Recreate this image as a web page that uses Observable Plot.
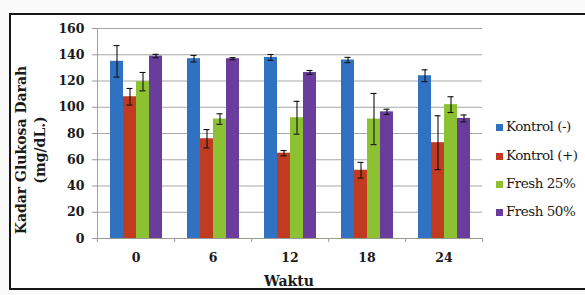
<!DOCTYPE html>
<html>
<head>
<meta charset="utf-8">
<script src="https://cdn.jsdelivr.net/npm/d3@7"></script>
<script src="https://cdn.jsdelivr.net/npm/@observablehq/plot@0.6"></script>
<style>
  html, body { margin: 0; padding: 0; background: #fafafa; overflow: hidden; }
  #wrap { position: relative; width: 585px; height: 295px; font-family: "DejaVu Serif", serif; }
  #border { position: absolute; left: 9px; top: 13px; width: 640px; height: 277px; border: 2.5px solid #161616; background: #fff; box-sizing: border-box; }
  #chart { position: absolute; left: 0; top: 0; }
  #ytitle { position: absolute; left: 31px; top: 150px; width: 0; height: 0; }
  #ytitle div { position: absolute; transform: translate(-50%, -50%) rotate(-90deg); white-space: nowrap; text-align: center; font-weight: bold; font-size: 14px; line-height: 19px; color: #1a1a1a; }
  #xtitle { position: absolute; left: 289px; top: 281px; transform: translate(-50%, -50%); font-weight: bold; font-size: 14px; color: #1a1a1a; }
  .leg { position: absolute; left: 496px; height: 20px; display: flex; align-items: center; font-family: "DejaVu Serif", serif; font-size: 13.5px; letter-spacing: -0.5px; color: #1a1a1a; white-space: nowrap; }
  .leg span.sw { display: inline-block; width: 7px; height: 7px; margin-right: 3px; margin-top: 2px; }
</style>
</head>
<body>
<div id="wrap">
  <div id="border"></div>
  <div id="chart"></div>
  <div id="ytitle"><div>Kadar Glukosa Darah<br>(mg/dL.)</div></div>
  <div id="xtitle">Waktu</div>
  <div id="legend"></div>
</div>
<script>
const times = ["0", "6", "12", "18", "24"];
const series = ["Kontrol (-)", "Kontrol (+)", "Fresh 25%", "Fresh 50%"];
const colors = ["#3071c2", "#c03b1f", "#8cc232", "#6a3d9d"];
const yTicks = [0, 20, 40, 60, 80, 100, 120, 140, 160];

const kontrolNeg    = [135, 137, 138, 136, 124];
const kontrolNegErr = [12, 2.5, 2.2, 2, 4.5];
const kontrolPos    = [108, 76, 65, 52, 73];
const kontrolPosErr = [6.3, 7, 2, 6, 20.5];
const fresh25       = [119.5, 91, 92, 91, 102];
const fresh25Err    = [7, 4, 12.5, 19.5, 6];
const fresh50       = [139, 137, 126.5, 96.5, 91.5];
const fresh50Err    = [1.3, 0.8, 1.5, 2, 2.6];

const values = [kontrolNeg, kontrolPos, fresh25, fresh50];
const errs = [kontrolNegErr, kontrolPosErr, fresh25Err, fresh50Err];

const rows = [];
times.forEach((t, i) => {
  series.forEach((s, j) => {
    rows.push({time: t, series: s, value: values[j][i], err: errs[j][i]});
  });
});

const W = 585, H = 295, mL = 96, mR = 102, mT = 28, mB = 57;
const fxStep = (W - mL - mR) / times.length;

const chart = Plot.plot({
  width: W, height: H,
  marginLeft: mL, marginRight: mR, marginTop: mT, marginBottom: mB,
  style: {fontFamily: "DejaVu Serif", background: "transparent", color: "#1a1a1a"},
  fx: {domain: times, padding: 0, label: null},
  x: {domain: series, paddingInner: 0, paddingOuter: 0.76, axis: null},
  y: {domain: [0, 160], label: null},
  color: {domain: series, range: colors},
  marks: [
    Plot.gridY(yTicks, {stroke: "#a8a8a8", strokeOpacity: 1}),
    Plot.barY(rows, {fx: "time", x: "series", y: "value", fill: "series"}),
    Plot.ruleX(rows, {fx: "time", x: "series", y1: d => d.value - d.err, y2: d => d.value + d.err, stroke: "#111", strokeWidth: 1.1}),
    Plot.tickY(rows, {fx: "time", x: "series", y: d => d.value - d.err, stroke: "#111", strokeWidth: 1.1, insetLeft: 3.5, insetRight: 3.5}),
    Plot.tickY(rows, {fx: "time", x: "series", y: d => d.value + d.err, stroke: "#111", strokeWidth: 1.1, insetLeft: 3.5, insetRight: 3.5}),
    Plot.frame({anchor: "left", facetAnchor: "left", stroke: "#a0a0a0"}),
    Plot.ruleY([0], {stroke: "#9a9a90"}),
    Plot.axisY(yTicks, {tickSize: 5, tickPadding: 8, fontSize: 12.5, fontWeight: "bold", stroke: "#999", label: null}),
    Plot.axisFx({anchor: "bottom", tickSize: 0, tickPadding: 15, fontSize: 12.5, fontWeight: "bold", label: null}),
    Plot.axisFx({anchor: "bottom", tickSize: 4, tickFormat: () => "", dx: fxStep / 2, stroke: "#999", label: null}),
    Plot.axisFx({anchor: "bottom", ticks: [times[0]], tickSize: 4, tickFormat: () => "", dx: -fxStep / 2, stroke: "#999", label: null})
  ]
});
document.getElementById("chart").appendChild(chart);

const legend = document.getElementById("legend");
const legTop = [126, 155, 183, 211];
series.forEach((s, j) => {
  const row = document.createElement("div");
  row.className = "leg";
  row.style.top = (legTop[j] - 10) + "px";
  const sw = document.createElement("span");
  sw.className = "sw";
  sw.style.background = colors[j];
  row.appendChild(sw);
  row.appendChild(document.createTextNode(s));
  legend.appendChild(row);
});
</script>
</body>
</html>
